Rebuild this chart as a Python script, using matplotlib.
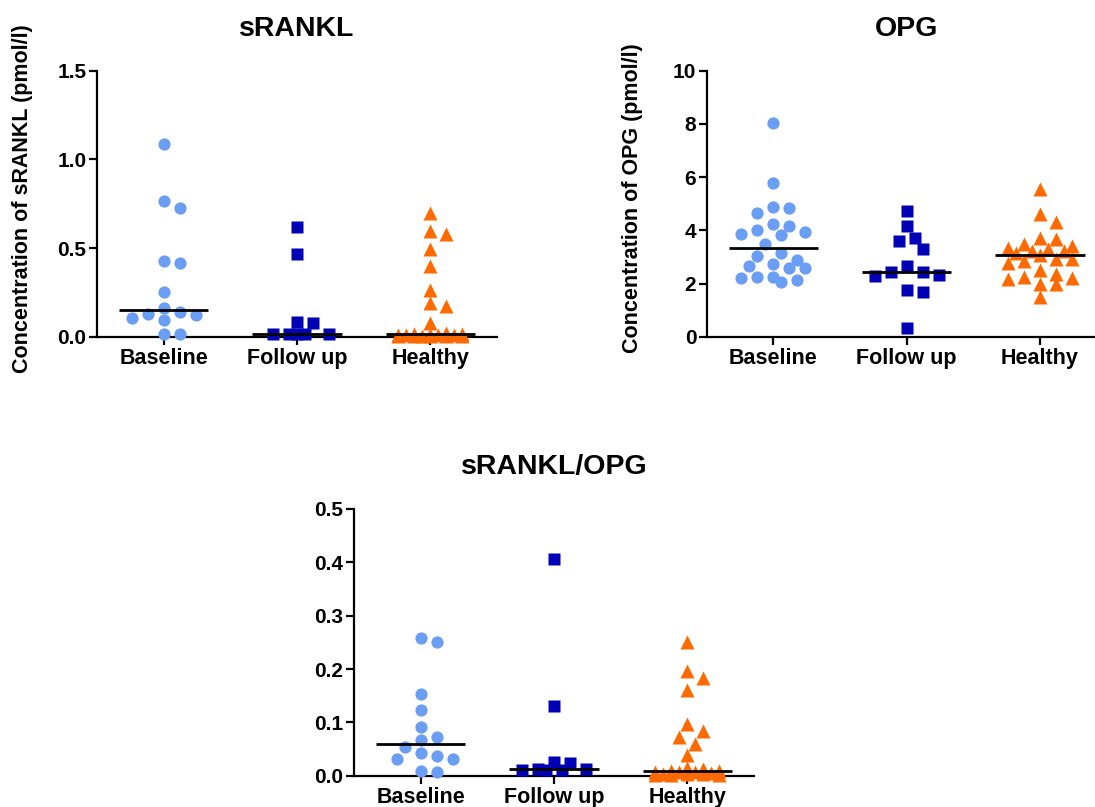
import numpy as np
import matplotlib
matplotlib.use('Agg')
import matplotlib.pyplot as plt
from matplotlib.ticker import FormatStrFormatter

plt.rcParams['font.family'] = ['Liberation Sans', 'DejaVu Sans']
plt.rcParams['font.weight'] = 'bold'

groups = ['Baseline', 'Follow up', 'Healthy']

# sRANKL (pmol/l)
srankl_baseline = [1.085, 0.765, 0.727, 0.425, 0.414, 0.252, 0.160, 0.141, 0.130,
                   0.120, 0.107, 0.095, 0.015, 0.015]
srankl_followup = [0.617, 0.466, 0.085, 0.075, 0.015, 0.015, 0.015, 0.015, 0.015]
srankl_healthy = [0.700, 0.598, 0.579, 0.492, 0.400, 0.263, 0.188, 0.173, 0.079,
                  0.020, 0.018, 0.015, 0.012, 0.010, 0.010, 0.008, 0.008, 0.006,
                  0.005, 0.005, 0.004, 0.003, 0.002]

# OPG (pmol/l)
opg_baseline = [8.02, 5.79, 4.89, 4.85, 4.66, 4.22, 4.17, 4.03, 3.93, 3.86, 3.82, 3.48,
                3.16, 3.05, 2.87, 2.73, 2.64, 2.59, 2.58, 2.24, 2.24, 2.22, 2.13, 2.07]
opg_followup = [4.72, 4.17, 3.72, 3.60, 3.30, 2.67, 2.44, 2.42, 2.32, 2.28, 1.75, 1.69, 0.31]
opg_healthy = [5.54, 4.61, 4.30, 3.72, 3.66, 3.47, 3.40, 3.35, 3.28, 3.23, 3.23, 3.16,
               3.07, 2.92, 2.92, 2.84, 2.76, 2.51, 2.34, 2.26, 2.19, 2.17, 2.00, 1.97, 1.50]

# sRANKL/OPG ratio
ratio_baseline = [0.259, 0.250, 0.153, 0.123, 0.091, 0.073, 0.066, 0.053, 0.042,
                  0.036, 0.032, 0.031, 0.009, 0.007]
ratio_followup = [0.406, 0.131, 0.026, 0.023, 0.012, 0.012, 0.010, 0.010, 0.010]
ratio_healthy = [0.251, 0.196, 0.183, 0.160, 0.096, 0.084, 0.073, 0.059, 0.038,
                 0.014, 0.012, 0.009, 0.008, 0.007, 0.006, 0.006, 0.005, 0.004,
                 0.004, 0.003, 0.002, 0.002, 0.001]

titles = ['sRANKL', 'OPG', 'sRANKL/OPG']
ylabels = ['Concentration of sRANKL (pmol/l)', 'Concentration of OPG (pmol/l)', None]
yticks = [[0.0, 0.5, 1.0, 1.5], [0, 2, 4, 6, 8, 10], [0.0, 0.1, 0.2, 0.3, 0.4, 0.5]]
yfmt = ['%.1f', '%d', '%.1f']

colors = ['#6A9EF5', '#0000B4', '#FF6A00']
markers = ['o', 's', '^']
msizes = [8.8, 8.2, 9.6]

W, H = 1095, 807
fig = plt.figure(figsize=(W / 100, H / 100), dpi=100)

def px_axes(left, top, width, height):
    return fig.add_axes([left / W, (H - top - height) / H, width / W, height / H])

axes = [px_axes(97, 70.7, 400, 266),
        px_axes(706.7, 70.7, 400, 266),
        px_axes(354, 509, 400, 266.7)]

data = [[srankl_baseline, srankl_followup, srankl_healthy],
        [opg_baseline, opg_followup, opg_healthy],
        [ratio_baseline, ratio_followup, ratio_healthy]]


def swarm_offsets(values, ppu, ppc, w=16.0, h=12.5, step=8.0, nmax=4):
    vals = np.asarray(values, float)
    order = np.argsort(-vals, kind='stable')
    cands = [0.0]
    for k in range(1, nmax + 1):
        cands += [k * step, -k * step]
    xs, ys = [], []
    offs = np.zeros(len(vals))
    for i in order:
        y = vals[i] * ppu
        best, bestscore = 0.0, -1.0
        for c in cands:
            if xs:
                d = np.min(((np.array(xs) - c) / w) ** 2 + ((np.array(ys) - y) / h) ** 2)
            else:
                d = np.inf
            if d >= 1:
                best = c
                break
            if d > bestscore:
                bestscore, best = d, c
        xs.append(best)
        ys.append(y)
        offs[i] = best / ppc
    return offs


for k, ax in enumerate(axes):
    top = yticks[k][-1]
    ax.set_xlim(-0.5, 2.5)
    ax.set_ylim(0, top)
    ppu = 266.0 / top
    ppc = 400.0 / 3
    for g in range(3):
        vals = np.asarray(data[k][g], float)
        offs = swarm_offsets(vals, ppu, ppc)
        ax.plot(g + offs, vals, linestyle='none', marker=markers[g], ms=msizes[g],
                mfc=colors[g], mec='none', clip_on=False, zorder=3)
        med = np.median(vals)
        ax.plot([g - 0.335, g + 0.335], [med, med], color='black', lw=2.0,
                solid_capstyle='butt', clip_on=False, zorder=5)

    for s in ['top', 'right']:
        ax.spines[s].set_visible(False)
    for s in ['left', 'bottom']:
        ax.spines[s].set_linewidth(1.6)
    ax.set_xticks(range(3))
    ax.set_xticklabels(groups, fontsize=15.5, fontweight='bold')
    ax.set_yticks(yticks[k])
    ax.yaxis.set_major_formatter(FormatStrFormatter(yfmt[k]))
    ax.tick_params(axis='y', length=5.5, width=1.6, pad=2, labelsize=15)
    ax.tick_params(axis='x', length=5.5, width=1.6, pad=2.5)
    for lab in ax.get_yticklabels():
        lab.set_fontweight('bold')
    ax.set_title(titles[k], fontsize=20.5, fontweight='bold', pad=25)
    if ylabels[k]:
        ax.set_ylabel(ylabels[k], fontsize=15.5, fontweight='bold', va='center')
        ax.yaxis.set_label_coords(-0.185, 0.52)
    ax.set_facecolor('none')

fig.savefig('out.png', dpi=100, facecolor='white')
